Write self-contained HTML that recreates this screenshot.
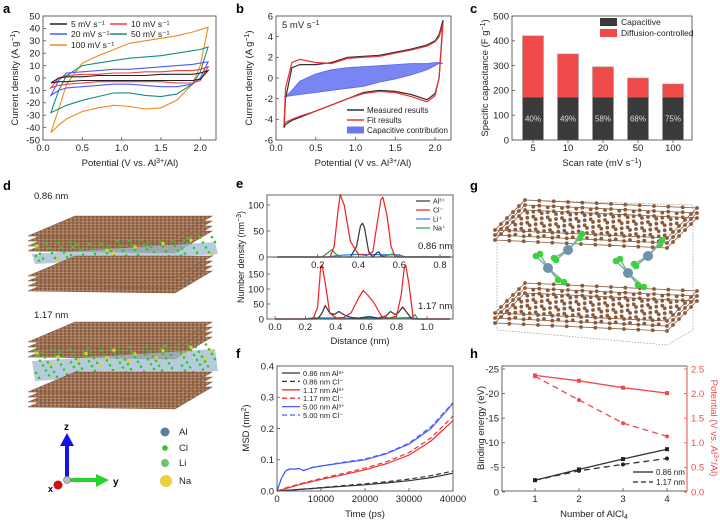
<!DOCTYPE html>
<html><head><meta charset="utf-8">
<style>
html,body{margin:0;padding:0;background:#fff;}
svg{display:block;font-family:"Liberation Sans",Arial,sans-serif;}
.t{font-size:9.5px;fill:#222;}
.pl{font-size:13px;font-weight:bold;fill:#000;}
</style></head>
<body>
<svg id="fig" width="720" height="525" viewBox="0 0 720 525" xmlns="http://www.w3.org/2000/svg">
<defs>
<pattern id="gr" width="4" height="3" patternUnits="userSpaceOnUse"><rect width="4" height="3" fill="#a0765a"/><circle cx="1" cy="1" r="0.9" fill="#7a4a2c"/><circle cx="3" cy="2.4" r="0.7" fill="#c49a80"/></pattern>
</defs>
<text class="pl" x="3" y="13">a</text>
<text class="pl" x="236" y="13">b</text>
<text class="pl" x="470" y="13">c</text>
<text class="pl" x="3" y="190">d</text>
<text class="pl" x="236" y="188">e</text>
<text class="pl" x="470" y="190">g</text>
<text class="pl" x="236" y="358">f</text>
<text class="pl" x="470" y="358">h</text>

<text class="t" transform="translate(18,78) rotate(-90)" text-anchor="middle">Current density (A g<tspan dy="-3" font-size="7">−1</tspan><tspan dy="3">)</tspan></text>
<text class="t" x="130" y="166" text-anchor="middle">Potential (V vs. Al<tspan dy="-3" font-size="7">3+</tspan><tspan dy="3">/Al)</tspan></text>
<text class="t" transform="translate(252,78) rotate(-90)" text-anchor="middle">Current density (A g<tspan dy="-3" font-size="7">−1</tspan><tspan dy="3">)</tspan></text>
<text class="t" x="363" y="166" text-anchor="middle">Potential (V vs. Al<tspan dy="-3" font-size="7">3+</tspan><tspan dy="3">/Al)</tspan></text>
<text class="t" x="282" y="28">5 mV s<tspan dy="-3" font-size="7">−1</tspan></text>
<text class="t" transform="translate(488,78) rotate(-90)" text-anchor="middle">Specific capacitance (F g<tspan dy="-3" font-size="7">−1</tspan><tspan dy="3">)</tspan></text>
<text class="t" x="602" y="166" text-anchor="middle">Scan rate (mV s<tspan dy="-3" font-size="7">−1</tspan><tspan dy="3">)</tspan></text>
<text class="t" transform="translate(244,257) rotate(-90)" text-anchor="middle" font-size="9" style="font-size:9px">Number density (nm<tspan dy="-3" font-size="7">−3</tspan><tspan dy="3">)</tspan></text>
<text class="t" x="360" y="344" text-anchor="middle">Distance (nm)</text>
<text class="t" x="418" y="249">0.86 nm</text>
<text class="t" x="418" y="309">1.17 nm</text>
<text class="t" transform="translate(249,428) rotate(-90)" text-anchor="middle">MSD (nm<tspan dy="-3" font-size="7">2</tspan><tspan dy="3">)</tspan></text>
<text class="t" x="365" y="517" text-anchor="middle">Time (ps)</text>
<text class="t" transform="translate(484,428) rotate(-90)" text-anchor="middle">Binding energy (eV)</text>
<text class="t" transform="translate(711,428) rotate(90)" text-anchor="middle" style="fill:#f04a4a">Potential (V vs. Al<tspan dy="-3" font-size="7">3+</tspan><tspan dy="3">/Al)</tspan></text>
<text class="t" x="594" y="517" text-anchor="middle">Number of AlCl<tspan dy="2" font-size="7">4</tspan></text>

<text class="t" x="34" y="199" font-size="10">0.86 nm</text>
<text class="t" x="34" y="318" font-size="10">1.17 nm</text>
<g id="dstruct"></g>
<g id="gstruct"></g>
<g>
<line x1="67" y1="480" x2="67" y2="444" stroke="#1414e6" stroke-width="4"/>
<polygon points="60,446 74,446 67,433" fill="#1414e6"/>
<line x1="67" y1="480" x2="98" y2="480" stroke="#2ad32a" stroke-width="4"/>
<polygon points="96,474 96,487 109,480" fill="#2ad32a"/>
<circle cx="58" cy="485" r="4.5" fill="#c81414"/>
<circle cx="67" cy="480" r="3.5" fill="#bbb" stroke="#888" stroke-width="0.8"/>
<text x="64" y="430" font-size="10" font-weight="bold">z</text>
<text x="113" y="485" font-size="10" font-weight="bold">y</text>
<text x="48" y="492" font-size="9" font-weight="bold">x</text>
</g>
<g>
<circle cx="165" cy="432" r="4.5" fill="#5a7f9c"/><text class="t" x="179" y="435">Al</text>
<circle cx="165" cy="448" r="2.8" fill="#2ec82e"/><text class="t" x="179" y="451">Cl</text>
<circle cx="165" cy="463" r="4" fill="#6cc46c"/><text class="t" x="179" y="466">Li</text>
<circle cx="166" cy="481" r="6" fill="#e8d13a"/><text class="t" x="179" y="484">Na</text>
</g>
<g id="charts"></g>
</svg>
<script>
const aV = [0.1,0.2,0.3,0.5,0.7,0.9,1.1,1.3,1.5,1.7,1.9,2.0,2.1];
const aRates = ['5 mV s⁻¹','10 mV s⁻¹','20 mV s⁻¹','50 mV s⁻¹','100 mV s⁻¹'];
const aUp5 = [-4,0,1,1,2,2,2,2,3,3,3,4,6];
const aLo5 = [-4,-3,-3,-2,-2,-2,-2,-2,-2,-2,-2,-1,6];
const aUp10 = [-8,0,2,3,3,4,4,5,5,6,6,7,9];
const aLo10 = [-8,-6,-5,-4,-3,-3,-3,-3,-3,-4,-4,-2,9];
const aUp20 = [-14,-2,4,5,6,7,7,8,9,10,11,12,13];
const aLo20 = [-14,-10,-8,-7,-6,-5,-5,-6,-7,-7,-5,0,13];
const aUp50 = [-28,-10,2,10,12,14,16,17,18,20,22,23,25];
const aLo50 = [-28,-25,-22,-18,-15,-12,-12,-14,-15,-13,-5,5,25];
const aUp100 = [-44,-25,-5,12,18,23,28,30,32,34,37,39,41];
const aLo100 = [-44,-38,-33,-27,-24,-22,-23,-25,-24,-18,-5,10,41];
const aTicksX = [0.0,0.5,1.0,1.5,2.0];
const aTicksY = [-50,-40,-30,-20,-10,0,10,20,30,40,50];

const bV = [0.1,0.12,0.2,0.3,0.5,0.7,0.9,1.1,1.3,1.5,1.7,1.9,2.0,2.05,2.1];
const bMeasUp = [-4.8,-2,1.0,1.3,1.3,1.5,2.0,2.1,2.2,2.5,2.8,3.2,3.6,4.2,5.6];
const bMeasLo = [-4.8,-4.5,-4.1,-3.8,-3.2,-2.6,-2.0,-1.4,-1.2,-1.3,-1.6,-2.1,-1.5,0,5.6];
const bFitUp = [-4.5,-1,1.5,1.8,1.5,1.4,1.9,2.0,2.1,2.4,2.7,3.1,3.5,4.0,5.2];
const bFitLo = [-4.5,-4.3,-4.0,-3.7,-3.2,-2.6,-2.0,-1.5,-1.3,-1.4,-1.8,-2.3,-1.7,0,5.2];
const bCapUp = [-1.8,-1.8,-1.2,-0.3,0.4,0.8,1.0,1.1,1.2,1.3,1.4,1.4,1.5,1.5,1.4];
const bCapLo = [-1.8,-1.8,-1.7,-1.6,-1.4,-1.2,-1.0,-0.8,-0.4,-0.1,0.3,0.8,1.2,1.4,1.4];
const bTicksY = [-6,-4,-2,0,2,4,6];

const cRates = ['5','10','20','50','100'];
const cTotal = [420,347,295,250,226];
const cCap = [172,172,172,172,172];
const cPct = ['40%','49%','58%','68%','75%'];
const cTicksY = [0,100,200,300,400,500];

const eTopClX = [0,0.20,0.26,0.28,0.30,0.31,0.33,0.36,0.40,0.44,0.47,0.49,0.51,0.52,0.54,0.56,0.58,0.62,0.85];
const eTopClY = [0,0,0,20,90,120,100,30,5,3,10,60,110,115,80,20,0,0,0];
const eTopAlX = [0,0.36,0.39,0.41,0.42,0.43,0.45,0.47,0.49,0.50,0.51,0.53,0.85];
const eTopAlY = [0,0,20,60,65,55,10,0,8,10,3,0,0];
const eTopNaX = [0,0.22,0.25,0.27,0.29,0.31,0.5,0.55,0.57,0.6,0.85];
const eTopNaY = [0,0,8,14,5,0,0,4,6,0,0];
const eTopLiX = [0,0.25,0.3,0.4,0.6,0.63,0.85];
const eTopLiY = [0,0,3,5,4,0,0];
const eBotClX = [0,0.25,0.28,0.30,0.31,0.33,0.36,0.40,0.45,0.50,0.55,0.58,0.61,0.65,0.70,0.75,0.80,0.83,0.85,0.86,0.88,0.91,1.15];
const eBotClY = [0,0,40,170,180,120,20,3,5,20,70,95,80,55,10,3,10,80,170,180,120,0,0];
const eBotAlX = [0,0.28,0.31,0.33,0.36,0.39,0.42,0.45,0.50,0.55,0.62,0.68,0.73,0.76,0.79,0.81,0.84,0.87,0.90,1.15];
const eBotAlY = [0,0,20,45,20,15,25,15,5,3,8,3,10,25,15,20,40,20,0,0];
const eBotNaX = [0,0.2,0.26,0.3,0.5,0.7,0.9,0.92,0.94,1.15];
const eBotNaY = [0,0,5,0,0,0,5,15,0,0];
const eBotLiX = [0,0.2,0.3,0.5,0.7,0.9,0.95,1.15];
const eBotLiY = [0,0,4,3,3,4,0,0];
const eTopTicksX = [0.2,0.4,0.6,0.8];
const eTopTicksY = [0,50,100];
const eBotTicksX = [0.0,0.2,0.4,0.6,0.8,1.0];
const eBotTicksY = [0,50,100,150];

const fT = [0,1000,2000,3000,4000,5000,6000,7000,8000,10000,15000,20000,25000,30000,35000,40000];
const f500Al = [0,0.04,0.065,0.07,0.07,0.072,0.065,0.07,0.075,0.08,0.09,0.1,0.12,0.15,0.2,0.28];
const f500Cl = [0,0.04,0.066,0.071,0.07,0.072,0.066,0.07,0.076,0.08,0.092,0.102,0.122,0.153,0.205,0.283];
const f117Al = [0,0.004,0.008,0.012,0.016,0.02,0.024,0.027,0.03,0.037,0.052,0.068,0.088,0.115,0.16,0.225];
const f117Cl = [0,0.005,0.01,0.014,0.018,0.022,0.026,0.029,0.033,0.04,0.056,0.073,0.094,0.123,0.17,0.24];
const f086Al = [0,0.001,0.002,0.003,0.004,0.005,0.006,0.007,0.008,0.01,0.015,0.02,0.026,0.033,0.043,0.057];
const f086Cl = [0,0.001,0.002,0.003,0.004,0.005,0.006,0.007,0.008,0.011,0.017,0.023,0.03,0.038,0.049,0.064];
const fTicksX = [0,10000,20000,30000,40000];
const fTicksY = [0.0,0.1,0.2,0.3,0.4];

const hN = [1,2,3,4];
const hBE086 = [-2.4,-4.6,-6.7,-8.7];
const hBE117 = [-2.4,-4.3,-5.6,-6.8];
const hPot086 = [2.37,2.26,2.12,2.01];
const hPot117 = [2.35,1.87,1.40,1.13];
const hTicksY = [0,-5,-10,-15,-20,-25];
const hTicksR = [0.0,0.5,1.0,1.5,2.0,2.5];

const NS='http://www.w3.org/2000/svg';
const root=document.getElementById('charts');
function mk(tag,attrs,name,parent){
  const el=document.createElementNS(NS,tag);
  for(const k in attrs) el.setAttribute(k,attrs[k]);
  
  
  (parent||root).appendChild(el);
  return el;
}
function scale(d0,d1,r0,r1){return v=>r0+(v-d0)*(r1-r0)/(d1-d0);}
function txt(x,y,s,anchor,name,extra){
  const t=mk('text',Object.assign({x:x,y:y,'text-anchor':anchor,'font-size':'9.5',fill:'#222'},extra||{}),name);
  t.textContent=s; return t;
}
function box(x0,y0,x1,y1,name,col){mk('rect',{x:x0,y:y0,width:x1-x0,height:y1-y0,fill:'none',stroke:col||'#555','stroke-width':0.9},name);}
function xTicks(ticks,sx,yb,fmt,name,labelY,len){
  ticks.forEach(v=>{mk('line',{x1:sx(v),x2:sx(v),y1:yb,y2:yb-(len||3),stroke:'#555','stroke-width':0.8},name+'-tick');
    txt(sx(v),labelY,fmt(v),'middle',name+'-label');});
}
function yTicks(ticks,sy,xl,fmt,name,right,col){
  ticks.forEach(v=>{mk('line',{x1:xl,x2:xl+(right?-3:3),y1:sy(v),y2:sy(v),stroke:col||'#555','stroke-width':0.8},name+'-tick');
    txt(right?xl+4:xl-3,sy(v)+3.3,fmt(v),right?'start':'end',name+'-label',col?{fill:col}:null);});
}
function pathXY(xs,ys,sx,sy){return xs.map((x,i)=>(i?'L':'M')+sx(x).toFixed(1)+','+sy(ys[i]).toFixed(1)).join(' ');}
function line(xs,ys,sx,sy,col,name,dash,w){
  mk('path',{d:pathXY(xs,ys,sx,sy),fill:'none',stroke:col,'stroke-width':w||1.2,'stroke-dasharray':dash||'none','stroke-linejoin':'round'},name);
}
function loop(xs,up,lo,sx,sy){
  let d=pathXY(xs,up,sx,sy);
  for(let i=xs.length-1;i>=0;i--) d+=' L'+sx(xs[i]).toFixed(1)+','+sy(lo[i]).toFixed(1);
  return d+' Z';
}

(function(){
  const sx=scale(0,2.2,43,216), sy=scale(-50,50,140,16);
  const cols=['#222','#f03c3c','#4a5cff','#128f84','#f08a1e'];
  const ups=[aUp5,aUp10,aUp20,aUp50,aUp100], los=[aLo5,aLo10,aLo20,aLo50,aLo100];
  for(let k=4;k>=0;k--){
    mk('path',{d:loop(aV,ups[k],los[k],sx,sy),fill:'none',stroke:cols[k],'stroke-width':1.1},'a-cv-loop-'+aRates[k].split(' ')[0]+'mv');
  }
  box(43,16,216,140,'a-plot-frame');
  xTicks(aTicksX,sx,140,v=>v.toFixed(1),'a-x',151);
  yTicks(aTicksY,sy,43,v=>String(v),'a-y');
  const pos=[[50,24],[110,24],[50,34],[110,34],[50,45]];
  aRates.forEach((r,k)=>{
    mk('line',{x1:pos[k][0],x2:pos[k][0]+17,y1:pos[k][1],y2:pos[k][1],stroke:cols[k],'stroke-width':1.4},'a-legend-line');
    txt(pos[k][0]+21,pos[k][1]+3,r,'start','a-legend-entry',{'font-size':'8.5'});
  });
})();

(function(){
  const sx=scale(0,2.2,276,451), sy=scale(-6,6,140,16);
  mk('path',{d:loop(bV,bCapUp,bCapLo,sx,sy),fill:'#6a78f2',stroke:'#5a68ee','stroke-width':0.8,'fill-opacity':0.9},'b-capacitive-area');
  mk('path',{d:loop(bV,bMeasUp,bMeasLo,sx,sy),fill:'none',stroke:'#333','stroke-width':1.2},'b-measured-line');
  mk('path',{d:loop(bV,bFitUp,bFitLo,sx,sy),fill:'none',stroke:'#f03030','stroke-width':1.2},'b-fit-line');
  box(276,16,451,140,'b-plot-frame');
  xTicks(aTicksX,sx,140,v=>v.toFixed(1),'b-x',151);
  yTicks(bTicksY,sy,276,v=>String(v),'b-y');
  const L=[['Measured results','#333'],['Fit results','#f03030'],['Capacitive contribution','#6a78f2']];
  L.forEach((e,i)=>{
    const y=110+i*10;
    if(i<2) mk('line',{x1:347,x2:364,y1:y,y2:y,stroke:e[1],'stroke-width':1.4},'b-legend-line');
    else mk('rect',{x:347,y:y-3.5,width:17,height:7,fill:e[1]},'b-legend-swatch');
    txt(367,y+3,e[0],'start','b-legend-entry',{'font-size':'8'});
  });
})();

(function(){
  const sy=scale(0,500,140,16);
  const cx=i=>533+i*35;
  cRates.forEach((r,i)=>{
    mk('rect',{x:cx(i)-10.5,y:sy(cTotal[i]),width:21,height:sy(cCap[i])-sy(cTotal[i]),fill:'#f04a4a',stroke:'#999','stroke-width':0.5},'c-bar-diffusion-'+r);
    mk('rect',{x:cx(i)-10.5,y:sy(cCap[i]),width:21,height:140-sy(cCap[i]),fill:'#3a3a3a'},'c-bar-capacitive-'+r);
    txt(cx(i),sy(cCap[i]/2)+3,cPct[i],'middle','c-bar-percent',{fill:'#ddd','font-size':'8'});
    mk('line',{x1:cx(i),x2:cx(i),y1:140,y2:143,stroke:'#555','stroke-width':0.8},'c-x-tick');
    txt(cx(i),151,r,'middle','c-x-label');
  });
  box(512,16,692,140,'c-plot-frame');
  yTicks(cTicksY,sy,512,v=>String(v),'c-y');
  mk('rect',{x:600,y:18,width:17,height:8,fill:'#3a3a3a'},'c-legend-swatch');
  txt(621,25,'Capacitive','start','c-legend-entry',{'font-size':'8.5'});
  mk('rect',{x:600,y:29,width:17,height:8,fill:'#f04a4a'},'c-legend-swatch');
  txt(621,36,'Diffusion-controlled','start','c-legend-entry',{'font-size':'8.5'});
})();

(function(){
  const sxT=scale(0,0.8,277,440), syT=scale(0,100,257,205);
  const sxB=scale(0,1,275,427), syB=scale(0,150,319,274);
  const cl='#f02020', al='#333', li='#2a7ff0', na='#1aa050';
  line(eTopLiX,eTopLiY,sxT,syT,li,'e-top-li-line');
  line(eTopNaX,eTopNaY,sxT,syT,na,'e-top-na-line');
  line(eTopAlX,eTopAlY,sxT,syT,al,'e-top-al-line');
  line(eTopClX,eTopClY,sxT,syT,cl,'e-top-cl-line');
  line(eBotLiX,eBotLiY,sxB,syB,li,'e-bottom-li-line');
  line(eBotNaX,eBotNaY,sxB,syB,na,'e-bottom-na-line');
  line(eBotAlX,eBotAlY,sxB,syB,al,'e-bottom-al-line');
  line(eBotClX,eBotClY,sxB,syB,cl,'e-bottom-cl-line');
  box(267,195,453,257,'e-top-frame');
  box(267,257,453,319,'e-bottom-frame');
  xTicks(eTopTicksX,sxT,257,v=>v.toFixed(1),'e-top-x',268);
  yTicks(eTopTicksY,syT,267,v=>String(v),'e-top-y');
  xTicks(eBotTicksX,sxB,319,v=>v.toFixed(1),'e-bottom-x',330);
  yTicks(eBotTicksY,syB,267,v=>String(v),'e-bottom-y');
  const L=[['Al³⁺',al],['Cl⁻',cl],['Li⁺',li],['Na⁺',na]];
  L.forEach((e,i)=>{const y=201+i*9;
    mk('line',{x1:416,x2:430,y1:y,y2:y,stroke:e[1],'stroke-width':1.2},'e-legend-line');
    txt(433,y+2.5,e[0],'start','e-legend-entry',{'font-size':'7'});});
})();

(function(){
  const sx=scale(0,40000,277,453), sy=scale(0,0.4,491,366);
  line(fT,f086Al,sx,sy,'#333','f-086-al-line');
  line(fT,f086Cl,sx,sy,'#333','f-086-cl-line','5,3');
  line(fT,f117Al,sx,sy,'#f03030','f-117-al-line');
  line(fT,f117Cl,sx,sy,'#f03030','f-117-cl-line','5,3');
  line(fT,f500Al,sx,sy,'#4a5cff','f-500-al-line');
  line(fT,f500Cl,sx,sy,'#4a5cff','f-500-cl-line','5,3');
  box(277,366,453,491,'f-plot-frame');
  xTicks(fTicksX,sx,491,v=>String(v),'f-x',502);
  yTicks(fTicksY,sy,277,v=>v.toFixed(1),'f-y');
  const L=[['0.86 nm Al³⁺','#333',0],['0.86 nm Cl⁻','#333',1],['1.17 nm Al³⁺','#f03030',0],['1.17 nm Cl⁻','#f03030',1],['5.00 nm Al³⁺','#4a5cff',0],['5.00 nm Cl⁻','#4a5cff',1]];
  L.forEach((e,i)=>{const y=373+i*8.4;
    mk('line',{x1:282,x2:300,y1:y,y2:y,stroke:e[1],'stroke-width':1.3,'stroke-dasharray':e[2]?'5,3':'none'},'f-legend-line');
    txt(303,y+3,e[0],'start','f-legend-entry',{'font-size':'7.5'});});
})();

(function(){
  const sx=scale(1,4,535,667), sy=scale(0,-25,492,369), sr=scale(0,2.5,492,369);
  const red='#f04a4a';
  line(hN,hPot086,sx,sr,red,'h-potential-086-line',null,1.3);
  line(hN,hPot117,sx,sr,red,'h-potential-117-line','6,4',1.3);
  line(hN,hBE086,sx,sy,'#333','h-binding-086-line',null,1.3);
  line(hN,hBE117,sx,sy,'#333','h-binding-117-line','6,4',1.3);
  hN.forEach((n,i)=>{
    mk('rect',{x:sx(n)-2,y:sy(hBE086[i])-2,width:4,height:4,fill:'#222'},'h-binding-086-point');
    mk('circle',{cx:sx(n),cy:sy(hBE117[i]),r:2,fill:'#222'},'h-binding-117-point');
    mk('rect',{x:sx(n)-2,y:sr(hPot086[i])-2,width:4,height:4,fill:red},'h-potential-086-point');
    mk('circle',{cx:sx(n),cy:sr(hPot117[i]),r:2,fill:red},'h-potential-117-point');
  });
  mk('rect',{x:502,y:366,width:185,height:125,fill:'none',stroke:'#555','stroke-width':0.9},'h-plot-frame');
  mk('line',{x1:687,x2:687,y1:366,y2:491,stroke:red,'stroke-width':1},'h-right-axis');
  xTicks(hN,sx,491,v=>String(v),'h-x',502);
  yTicks(hTicksY,sy,502,v=>String(v),'h-y');
  yTicks(hTicksR,sr,687,v=>v.toFixed(1),'h-right-y',true,red);
  [['0.86 nm',null],['1.17 nm','5,3']].forEach((e,i)=>{const y=472+i*10;
    mk('line',{x1:633,x2:653,y1:y,y2:y,stroke:'#222','stroke-width':1.2,'stroke-dasharray':e[1]||'none'},'h-legend-line');
    txt(656,y+3,e[0],'start','h-legend-entry',{'font-size':'8'});});
})();

(function(){
  const g=document.getElementById('dstruct');
  function slab(y,n,name){
    for(let k=n-1;k>=0;k--){
      const yy=y+k*5;
      mk('polygon',{points:`28,${yy+20} 75,${yy} 212,${yy} 175,${yy+22}`,fill:'url(#gr)',stroke:'#8a5a3c','stroke-width':0.6},name,g);
    }
  }
  function ions(y0,h,name,nDots){
    mk('polygon',{points:`32,${y0+6} 215,${y0-6} 218,${y0+h-8} 35,${y0+h+2}`,fill:'#9dbbd0','fill-opacity':0.75},name,g);
    for(let i=0;i<nDots;i++){
      const x=34+((i*37)%182), y=y0-4+((i*13)%(h+6))-(x-34)*0.05;
      mk('circle',{cx:x,cy:y,r:1.3,fill:'#2ec82e'},'cl-atom',g);
      if(i%7===0) mk('circle',{cx:x+3,cy:y+2,r:1.8,fill:'#e8c93a'},'na-atom',g);
    }
  }
  slab(216,4,'d-graphene-sheet-top-086');
  ions(248,14,'d-ion-layer-086',70);
  slab(256,4,'d-graphene-sheet-bottom-086');
  slab(322,4,'d-graphene-sheet-top-117');
  ions(355,24,'d-ion-layer-117',110);
  slab(372,4,'d-graphene-sheet-bottom-117');
})();

(function(){
  const g=document.getElementById('gstruct');
  mk('polygon',{points:'497,235 525,200 693,205 693,330 667,345 497,330',fill:'none',stroke:'#888','stroke-width':0.6,'stroke-dasharray':'1.5,1.5'},'g-cell-box',g);
  function sheet(y,name){
    for(let k=2;k>=0;k--){
      const yy=y+k*5;
      const F0=[495,yy+30], F1=[667,yy+38], B0=[525,yy];
      mk('polygon',{points:`${F0[0]},${F0[1]} ${B0[0]},${B0[1]} ${B0[0]+F1[0]-F0[0]},${B0[1]+F1[1]-F0[1]} ${F1[0]},${F1[1]}`,fill:'none',stroke:'#8a5a3c','stroke-width':0.8},name,g);
      for(let r=0;r<=5;r++) for(let c=0;c<=12;c++){
        const u=c/12, t=r/5;
        const x=F0[0]+u*(F1[0]-F0[0])+t*(B0[0]-F0[0]);
        const yv=F0[1]+u*(F1[1]-F0[1])+t*(B0[1]-F0[1]);
        mk('circle',{cx:x.toFixed(1),cy:yv.toFixed(1),r:1.9,fill:'#8b5a3c'},'g-carbon-atom',g);
      }
    }
  }
  sheet(200,'g-graphene-top');
  sheet(283,'g-graphene-bottom');
  const Al=[[568,250],[548,268],[648,256],[628,273]];
  const off=[[-12,-12],[14,-16],[10,12],[-14,8]];
  Al.forEach((a,i)=>{
    off.forEach((o,j)=>{
      const ox=((i+j)%2?o[0]:-o[1]), oy=((i+j)%2?o[1]:o[0]);
      mk('line',{x1:a[0],y1:a[1],x2:a[0]+ox,y2:a[1]+oy,stroke:'#7fb0a0','stroke-width':1.5},'g-bond',g);
      mk('circle',{cx:a[0]+ox,cy:a[1]+oy,r:3.3,fill:'#3cd23c'},'g-cl-atom',g);
    });
    mk('circle',{cx:a[0],cy:a[1],r:5,fill:'#6e93ad'},'g-al-atom',g);
  });
})();
</script>
</body></html>
